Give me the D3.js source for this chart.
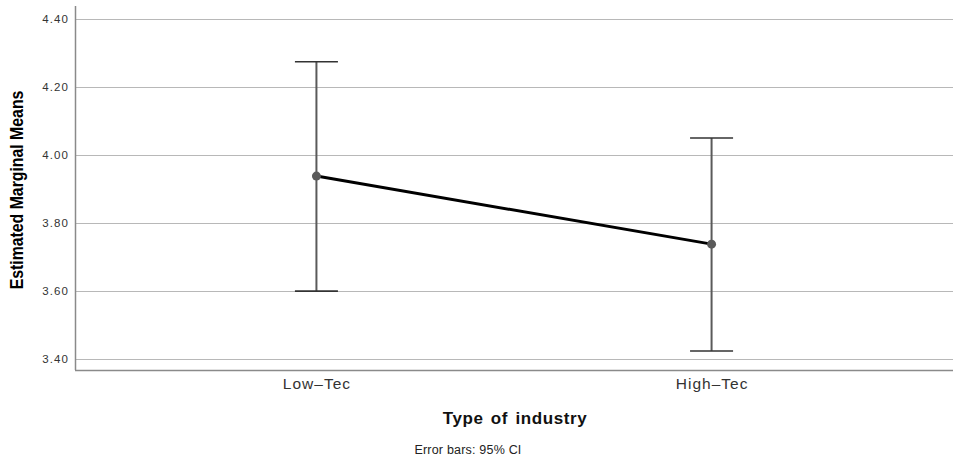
<!DOCTYPE html>
<html>
<head>
<meta charset="utf-8">
<script src="https://cdn.jsdelivr.net/npm/d3@7"></script>
<style>
  html, body { margin: 0; padding: 0; background: #fff; }
  svg { display: block; font-family: "Liberation Sans", Arial, sans-serif; }
</style>
</head>
<body>
<svg id="chart" width="958" height="458"></svg>
<script>
// Estimated marginal means by type of industry, with 95% CI
const categories = ["Low\u2013Tec", "High\u2013Tec"];
const means = [3.938, 3.738];
const ciLower = [3.600, 3.424];
const ciUpper = [4.274, 4.050];
const yTicks = [3.40, 3.60, 3.80, 4.00, 4.20, 4.40];

const svg = d3.select("#chart");
const plot = { left: 75, right: 953, top: 6, bottom: 370 };

const x = d3.scalePoint()
  .domain(categories)
  .range([plot.left, plot.right])
  .padding(0.611);

const y = d3.scaleLinear()
  .domain([3.368, 4.438])
  .range([plot.bottom, plot.top]);

// horizontal gridlines
svg.append("g")
  .selectAll("line")
  .data(yTicks)
  .join("line")
  .attr("x1", plot.left)
  .attr("x2", plot.right)
  .attr("y1", d => Math.round(y(d)) + 0.5)
  .attr("y2", d => Math.round(y(d)) + 0.5)
  .attr("stroke", "#b8b8b8")
  .attr("stroke-width", 1);

// y axis
const yAxis = svg.append("g")
  .attr("transform", `translate(${plot.left},0)`)
  .call(d3.axisLeft(y).tickValues(yTicks).tickFormat(d3.format(".2f")).tickSize(0).tickPadding(6));
yAxis.select(".domain").remove();
yAxis.selectAll("text")
  .attr("fill", "#333")
  .style("font-size", "11.5px")
  .style("letter-spacing", "1.1px");

svg.append("line")
  .attr("x1", plot.left + 0.5).attr("x2", plot.left + 0.5)
  .attr("y1", plot.top).attr("y2", plot.bottom)
  .attr("stroke", "#8a8a8a").attr("stroke-width", 1.5);

// x axis
const xAxis = svg.append("g")
  .attr("transform", `translate(0,${plot.bottom})`)
  .call(d3.axisBottom(x).tickSize(0).tickPadding(8));
xAxis.select(".domain").remove();
xAxis.selectAll("text")
  .attr("fill", "#333")
  .style("font-size", "15.5px")
  .style("letter-spacing", "1px");

svg.append("line")
  .attr("x1", plot.left).attr("x2", plot.right)
  .attr("y1", plot.bottom + 0.5).attr("y2", plot.bottom + 0.5)
  .attr("stroke", "#8a8a8a").attr("stroke-width", 1.5);

// error bars
const capHalf = 21.5;
const eb = svg.append("g");
categories.forEach((c, i) => {
  const cx = x(c);
  eb.append("line")
    .attr("x1", cx).attr("x2", cx)
    .attr("y1", y(ciUpper[i])).attr("y2", y(ciLower[i]))
    .attr("stroke", "#5a5a5a").attr("stroke-width", 2);
  [ciUpper[i], ciLower[i]].forEach(v => {
    eb.append("line")
      .attr("x1", cx - capHalf).attr("x2", cx + capHalf)
      .attr("y1", y(v)).attr("y2", y(v))
      .attr("stroke", "#333").attr("stroke-width", 1.6);
  });
});

// mean line
const line = d3.line()
  .x((d, i) => x(categories[i]))
  .y(d => y(d));
svg.append("path")
  .datum(means)
  .attr("d", line)
  .attr("fill", "none")
  .attr("stroke", "#000")
  .attr("stroke-width", 3);

svg.append("g")
  .selectAll("circle")
  .data(means)
  .join("circle")
  .attr("cx", (d, i) => x(categories[i]))
  .attr("cy", d => y(d))
  .attr("r", 4.5)
  .attr("fill", "#5a5a5a");

// axis titles
svg.append("text")
  .attr("transform", `translate(23,190) rotate(-90) scale(0.88,1)`)
  .attr("text-anchor", "middle")
  .style("font-size", "18px")
  .style("font-weight", "bold")
  .attr("fill", "#000")
  .text("Estimated Marginal Means");

svg.append("text")
  .attr("x", 515)
  .attr("y", 424)
  .attr("text-anchor", "middle")
  .style("font-size", "17px")
  .style("font-weight", "bold")
  .style("letter-spacing", "0.6px")
  .style("word-spacing", "2px")
  .attr("fill", "#111")
  .text("Type of industry");

svg.append("text")
  .attr("x", 468)
  .attr("y", 454)
  .attr("text-anchor", "middle")
  .style("font-size", "12.5px")
  .style("letter-spacing", "0.2px")
  .attr("fill", "#222")
  .text("Error bars: 95% CI");
</script>
</body>
</html>
